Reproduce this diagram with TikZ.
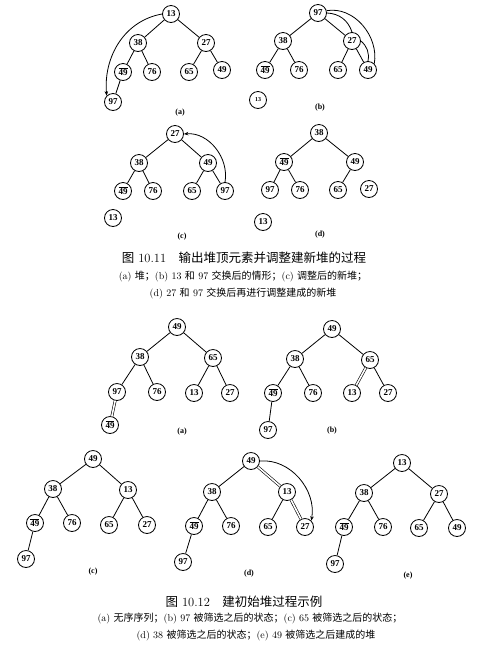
\documentclass[tikz,border=0pt]{standalone}
\usepackage{fontspec}
\newfontfamily\cjk{Noto Sans CJK SC}
\newfontfamily\numfont{Liberation Serif}
\usetikzlibrary{arrows.meta}
\newcommand{\zh}[1]{{\cjk #1}}
\newcommand{\ob}[1]{\vbox{\hrule height 0.6pt\kern1.2pt\hbox{#1}}}

\begin{document}
\begin{tikzpicture}[x=1pt, y=-1pt,
  key/.style={draw, circle, line width=0.8pt, inner sep=0pt, minimum size=17pt, font=\numfont\fontsize{9}{10}\selectfont\bfseries},
  tinykey/.style={key, font=\numfont\fontsize{6}{7}\selectfont\bfseries},
  edge/.style={line width=0.8pt},
  swap/.style={line width=0.6pt, double, double distance=1.6pt},
  move/.style={line width=0.8pt, ->, >={Stealth[length=4.5pt,width=3.5pt]}},
  sub/.style={font=\numfont\fontsize{8}{9}\selectfont\bfseries},
  head/.style={font=\fontsize{12.5}{14}\selectfont},
  capline/.style={font=\fontsize{10}{12}\selectfont}
]
\useasboundingbox (0,0) rectangle (480,657);

% fig 10.11 (a)
\foreach \n/\x/\y/\t in {1/171/14/13, 2/138/43/38, 3/206/43/27, 4/123/72/\ob{49},
                         5/152/72/76, 6/189/72/65, 7/222/70/49, 8/113/102/97}
  \node[key] (pa\n) at (\x,\y) {\t};
\foreach \a/\b in {1/2,1/3,2/4,2/5,3/6,3/7,4/8}
  \draw[edge] (pa\a) -- (pa\b);
\draw[move] (pa1.west) to[out=190, in=95] (pa8.north west);
\node[sub] (la) at (180,113) {(a)};

% fig 10.11 (b)
\foreach \n/\x/\y/\t in {1/318/13/97, 2/283/41/38, 3/352/41/27, 4/265/70/\ob{49},
                         5/299/70/76, 6/338/70/65, 7/368/70/49}
  \node[key] (pb\n) at (\x,\y) {\t};
\node[tinykey] (pb8) at (258,100) {13};
\foreach \a/\b in {1/2,1/3,2/4,2/5,3/6,3/7}
  \draw[edge] (pb\a) -- (pb\b);
\draw[edge] (pb1.east) to[bend left=35] (pb3.north);
\draw[edge] (pb3.east) to[bend left=30] (pb7.north);
\draw[edge] (pb1.15) to[out=10, in=80] (pb7.north east);
\node[sub] (lb) at (320,108) {(b)};

% fig 10.11 (c)
\foreach \n/\x/\y/\t in {1/175/134/27, 2/139/163/38, 3/208/163/49, 4/123/191/\ob{49},
                         5/153/191/76, 6/192/191/65, 7/225/191/97, 8/113/218/13}
  \node[key] (pc\n) at (\x,\y) {\t};
\foreach \a/\b in {1/2,1/3,2/4,2/5,3/6,3/7}
  \draw[edge] (pc\a) -- (pc\b);
\draw[move] (pc7.north) to[out=80, in=5] (pc1.east);
\node[sub] (lc) at (182,237) {(c)};

% fig 10.11 (d)
\foreach \n/\x/\y/\t in {1/319/133/38, 2/284/162/\ob{49}, 3/355/162/49, 4/270/190/97,
                         5/300/190/76, 6/338/190/65, 7/369/189/27, 8/263/222/13}
  \node[key] (pd\n) at (\x,\y) {\t};
\foreach \a/\b in {1/2,1/3,2/4,2/5,3/6}
  \draw[edge] (pd\a) -- (pd\b);
\node[sub] (ld) at (320,235) {(d)};

\node[head] (h1) at (244,258) {\zh{图} 10.11\quad \zh{输出堆顶元素并调整建新堆的过程}};
\node[capline] (c1) at (243,276) {(a) \zh{堆；}(b) 13 \zh{和} 97 \zh{交换后的情形；}(c) \zh{调整后的新堆；}};
\node[capline] (c2) at (243,293) {(d) 27 \zh{和} 97 \zh{交换后再进行调整建成的新堆}};

% fig 10.12 (a)
\foreach \n/\x/\y/\t in {1/177/327/49, 2/140/357/38, 3/213/358/65, 4/117/392/97,
                         5/157/392/76, 6/194/393/13, 7/230/393/27, 8/110/425/\ob{49}}
  \node[key] (qa\n) at (\x,\y) {\t};
\foreach \a/\b in {1/2,1/3,2/4,2/5,3/6,3/7}
  \draw[edge] (qa\a) -- (qa\b);
\draw[swap] (qa4) -- (qa8);
\node[sub] (ma) at (182,432) {(a)};

% fig 10.12 (b)
\foreach \n/\x/\y/\t in {1/332/329/49, 2/295/359/38, 3/370/360/65, 4/273/393/\ob{49},
                         5/313/393/76, 6/352/393/13, 7/388/393/27, 8/268/430/97}
  \node[key] (qb\n) at (\x,\y) {\t};
\foreach \a/\b in {1/2,1/3,2/4,2/5,3/7,4/8}
  \draw[edge] (qb\a) -- (qb\b);
\draw[swap] (qb3) -- (qb6);
\node[sub] (mb) at (332,431) {(b)};

% fig 10.12 (c)
\foreach \n/\x/\y/\t in {1/93/459/49, 2/53/489/38, 3/128/490/13, 4/35/523/\ob{49},
                         5/72/523/76, 6/109/525/65, 7/147/525/27, 8/26/559/97}
  \node[key] (qc\n) at (\x,\y) {\t};
\foreach \a/\b in {1/2,1/3,2/4,2/5,3/6,3/7,4/8}
  \draw[edge] (qc\a) -- (qc\b);
\node[sub] (mc) at (93,572) {(c)};

% fig 10.12 (d)
\foreach \n/\x/\y/\t in {1/251/461/49, 2/212/492/38, 3/287/492/13, 4/194/526/\ob{49},
                         5/231/526/76, 6/268/527/65, 7/305/527/27, 8/183/562/97}
  \node[key] (qd\n) at (\x,\y) {\t};
\foreach \a/\b in {1/2,2/4,2/5,3/6,4/8}
  \draw[edge] (qd\a) -- (qd\b);
\draw[swap] (qd1) -- (qd3);
\draw[swap] (qd3) -- (qd7);
\draw[move] (qd1.east) to[out=5, in=80] (qd7.north east);
\node[sub] (md) at (249,574) {(d)};

% fig 10.12 (e)
\foreach \n/\x/\y/\t in {1/402/463/13, 2/364/493/38, 3/439/494/27, 4/344/527/\ob{49},
                         5/383/527/76, 6/419/528/65, 7/457/528/49, 8/335/564/97}
  \node[key] (qe\n) at (\x,\y) {\t};
\foreach \a/\b in {1/2,1/3,2/4,2/5,3/6,3/7,4/8}
  \draw[edge] (qe\a) -- (qe\b);
\node[sub] (me) at (408,576) {(e)};

\node[head] (h2) at (244,602) {\zh{图} 10.12\quad \zh{建初始堆过程示例}};
\node[capline] (c3) at (250,619) {(a) \zh{无序序列；}(b) 97 \zh{被筛选之后的状态；}(c) 65 \zh{被筛选之后的状态；}};
\node[capline] (c4) at (256,636) {(d) 38 \zh{被筛选之后的状态；}(e) 49 \zh{被筛选之后建成的堆}};
\end{tikzpicture}
\end{document}
